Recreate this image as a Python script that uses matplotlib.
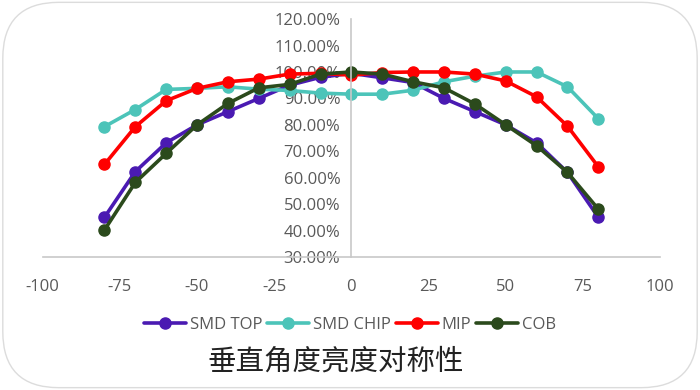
import numpy as np
import matplotlib.pyplot as plt
from matplotlib.patches import FancyBboxPatch
from matplotlib.ticker import FuncFormatter

angles = [-80, -70, -60, -50, -40, -30, -20, -10, 0, 10, 20, 30, 40, 50, 60, 70, 80]
smd_top = [45.0, 62.3, 73.2, 80.0, 85.0, 90.0, 95.0, 98.0, 99.5, 97.8, 96.0, 90.0, 85.0, 80.0, 73.2, 62.0, 45.0]
smd_chip = [79.3, 85.8, 93.4, 93.8, 94.4, 93.5, 93.0, 92.0, 91.6, 91.6, 93.1, 96.3, 98.4, 100.0, 100.0, 94.4, 82.3]
mip = [65.0, 79.3, 89.1, 93.8, 96.3, 97.3, 99.2, 99.5, 98.8, 99.8, 100.0, 100.0, 99.2, 96.6, 90.6, 79.5, 64.1]
cob = [40.2, 58.2, 69.2, 80.0, 88.1, 94.0, 95.3, 99.2, 100.0, 99.2, 96.3, 94.0, 87.9, 80.0, 72.1, 62.0, 48.1]

series_names = ["SMD TOP", "SMD CHIP", "MIP", "COB"]
colors = ["#4a1ab2", "#4cc4b9", "#ff0000", "#2b4a1c"]
title = "垂直角度亮度对称性"
grey = "#595959"

plt.rcParams["font.family"] = ["Open Sans", "DejaVu Sans"]
plt.rcParams["axes.unicode_minus"] = False

fig = plt.figure(figsize=(7, 3.9), dpi=100)
border = FancyBboxPatch((0.004, 0.006), 0.992, 0.988,
                        boxstyle="round,pad=0,rounding_size=0.08",
                        transform=fig.transFigure, facecolor="none",
                        edgecolor="#dcdcdc", linewidth=1, mutation_aspect=700 / 390)
fig.patches.append(border)

ax = fig.add_axes([0.061, 0.341, 0.882, 0.61])
ax.set_facecolor("none")

for vals, name, c in zip([smd_top, smd_chip, mip, cob], series_names, colors):
    ax.plot(angles, vals, color=c, lw=2.6, marker="o", ms=8, label=name,
            solid_capstyle="round")

ax.set_xlim(-100, 100)
ax.set_ylim(30, 120)
ax.set_xticks(np.arange(-100, 101, 25))
ax.set_yticks(np.arange(30, 121, 10))
ax.yaxis.set_major_formatter(FuncFormatter(lambda v, p: f"{v:.2f}%"))

for s in ["top", "right"]:
    ax.spines[s].set_visible(False)
ax.spines["left"].set_position(("data", 0))
ax.spines["left"].set_color("#c8c8c8")
ax.spines["bottom"].set_color("#c8c8c8")
ax.spines["left"].set_linewidth(1.2)
ax.spines["bottom"].set_linewidth(1.2)
ax.tick_params(axis="both", length=0, colors=grey, labelsize=12)
ax.tick_params(axis="x", pad=16)
ax.tick_params(axis="y", pad=8)

leg = fig.legend(loc="center", bbox_to_anchor=(0.5, 0.167), ncol=4, frameon=False,
                 fontsize=12, handlelength=2.5, handletextpad=0.25, columnspacing=0.3)
for t in leg.get_texts():
    t.set_color(grey)

fig.text(0.48, 0.072, title, ha="center", va="center", fontsize=20.5,
         family=["Noto Sans CJK SC", "DejaVu Sans"], color="#222222")

fig.savefig("out.png", dpi=100)
